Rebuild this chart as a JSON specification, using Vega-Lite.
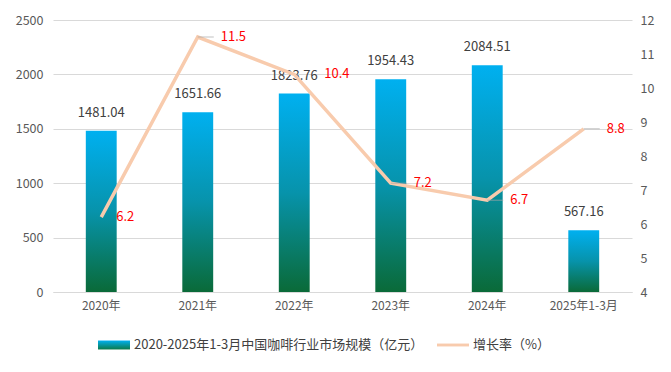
{
  "$schema": "https://vega.github.io/schema/vega-lite/v6.json",
  "width": 579,
  "height": 272,
  "autosize": {"type": "none"},
  "padding": {"left": 53, "top": 20, "right": 39, "bottom": 80},
  "background": "#FFFFFF",
  "config": {
    "font": "Noto Sans CJK SC",
    "view": {"stroke": null},
    "axis": {"labelFont": "Noto Sans CJK SC", "labelColor": "#595959", "labelFontSize": 12.5, "ticks": false, "title": null}
  },
  "data": {
    "values": [
      {"year": "2020年", "value": 1481.04, "rate": 6.2},
      {"year": "2021年", "value": 1651.66, "rate": 11.5},
      {"year": "2022年", "value": 1823.76, "rate": 10.4},
      {"year": "2023年", "value": 1954.43, "rate": 7.2},
      {"year": "2024年", "value": 2084.51, "rate": 6.7},
      {"year": "2025年1-3月", "value": 567.16, "rate": 8.8}
    ]
  },
  "encoding": {
    "x": {
      "field": "year",
      "type": "nominal",
      "sort": null,
      "scale": {"paddingInner": 0.68, "paddingOuter": 0.34},
      "axis": {"labelAngle": 0, "domainColor": "#D9D9D9", "labelPadding": 8, "labelFontSize": 12}
    }
  },
  "layer": [
    {
      "encoding": {
        "y": {
          "field": "value",
          "type": "quantitative",
          "scale": {"domain": [0, 2500], "nice": false},
          "axis": {"values": [0, 500, 1000, 1500, 2000, 2500], "format": "d", "domain": false, "gridColor": "#D9D9D9", "labelPadding": 10}
        }
      },
      "layer": [
        {
          "mark": {
            "type": "bar",
            "color": {
              "gradient": "linear",
              "x1": 0, "y1": 0, "x2": 0, "y2": 1,
              "stops": [
                {"offset": 0, "color": "#00B0F0"},
                {"offset": 0.5, "color": "#0793AB"},
                {"offset": 1, "color": "#0A6A38"}
              ]
            }
          }
        },
        {
          "mark": {"type": "text", "baseline": "middle", "dy": -18, "color": "#404040", "fontSize": 13},
          "encoding": {"text": {"field": "value", "type": "quantitative", "format": ".2f"}}
        }
      ]
    },
    {
      "encoding": {
        "y": {
          "field": "rate",
          "type": "quantitative",
          "scale": {"domain": [4, 12], "nice": false},
          "axis": {"orient": "right", "values": [4, 5, 6, 7, 8, 9, 10, 11, 12], "grid": false, "domain": false, "labelPadding": 8}
        }
      },
      "layer": [
        {
          "mark": {"type": "line", "strokeWidth": 3.5},
          "encoding": {
            "color": {
              "datum": "增长率（%）",
              "type": "nominal",
              "scale": {
                "domain": ["2020-2025年1-3月中国咖啡行业市场规模（亿元）", "增长率（%）"],
                "range": ["#0A8C9A", "#F8CBAD"]
              },
              "legend": {
                "title": null,
                "orient": "none",
                "legendX": 45,
                "legendY": 309,
                "direction": "horizontal",
                "symbolSize": 1024,
                "labelFontSize": 13,
                "labelColor": "#404040",
                "labelLimit": 400,
                "labelOffset": 4,
                "columnPadding": 13,
                "padding": 0,
                "encode": {
                  "symbols": {
                    "update": {
                      "shape": {"signal": "datum.value === '增长率（%）' ? 'M-1,-0.09H1V0.09H-1Z' : 'M-1,-0.28H1V0.28H-1Z'"},
                      "fill": {"signal": "datum.value === '增长率（%）' ? '#F8CBAD' : {gradient: 'linear', x1: 0, y1: 0, x2: 0, y2: 1, stops: [{offset: 0, color: '#00B0F0'}, {offset: 1, color: '#0A7A4A'}]}"},
                      "strokeWidth": {"value": 0},
                      "opacity": {"value": 1}
                    }
                  }
                }
              }
            }
          }
        },
        {
          "transform": [{"filter": {"field": "year", "oneOf": ["2021年", "2023年", "2024年", "2025年1-3月"]}}],
          "mark": {"type": "tick", "orient": "horizontal", "size": 16, "thickness": 1, "xOffset": 8, "color": "#A6A6A6"}
        },
        {
          "transform": [{"filter": {"field": "year", "oneOf": ["2021年", "2023年", "2024年", "2025年1-3月"]}}],
          "mark": {"type": "text", "align": "left", "baseline": "middle", "dx": 23, "color": "#FF0000", "fontSize": 13},
          "encoding": {"text": {"field": "rate", "type": "quantitative", "format": ".1f"}}
        },
        {
          "transform": [{"filter": {"field": "year", "equal": "2020年"}}],
          "mark": {"type": "text", "align": "left", "baseline": "middle", "dx": 15, "color": "#FF0000", "fontSize": 13},
          "encoding": {"text": {"field": "rate", "type": "quantitative", "format": ".1f"}}
        },
        {
          "transform": [{"filter": {"field": "year", "equal": "2022年"}}],
          "mark": {"type": "text", "align": "left", "baseline": "middle", "dx": 30, "color": "#FF0000", "fontSize": 13},
          "encoding": {"text": {"field": "rate", "type": "quantitative", "format": ".1f"}}
        }
      ]
    }
  ],
  "resolve": {"scale": {"y": "independent"}}
}
